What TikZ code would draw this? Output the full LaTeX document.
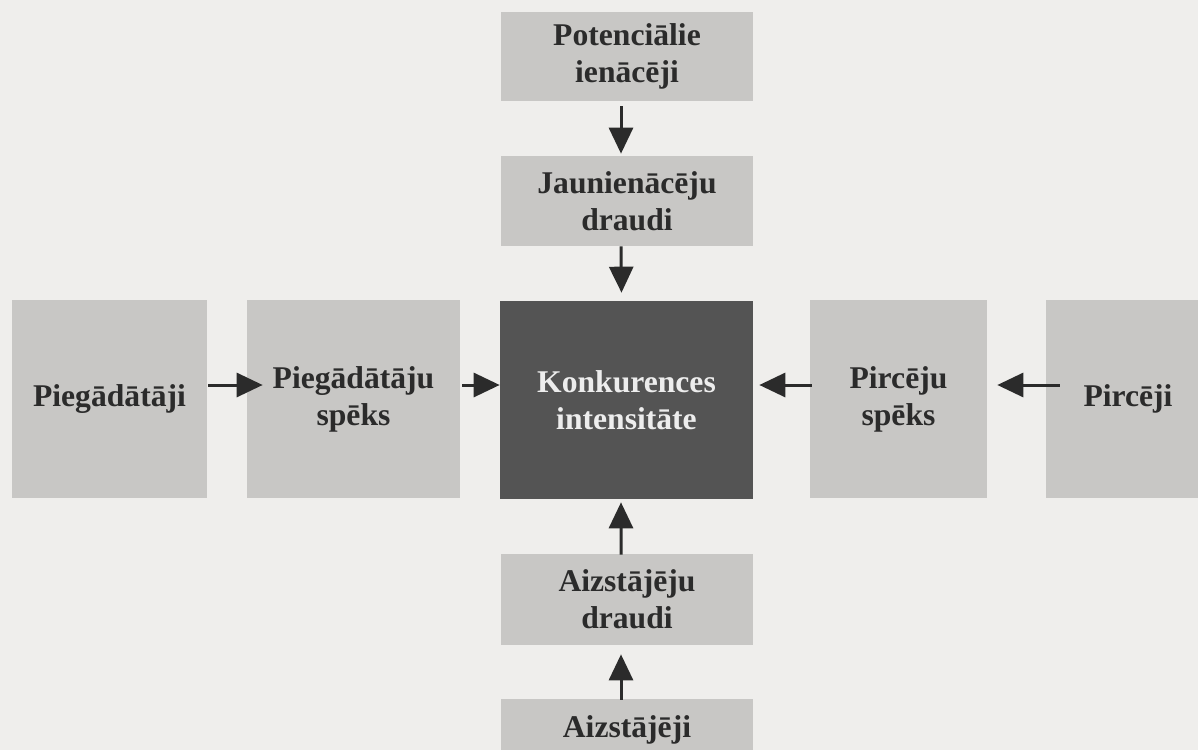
\documentclass[tikz,border=0pt]{standalone}
\usepackage{fontspec}
\setmainfont{Liberation Serif}
\usetikzlibrary{arrows.meta}
\definecolor{paper}{HTML}{EFEEEC}
\definecolor{boxgray}{HTML}{C8C7C5}
\definecolor{darkbox}{HTML}{545454}
\definecolor{ink}{HTML}{2B2B2B}
\definecolor{lightink}{HTML}{EDEDED}
\tikzset{
  lbox/.style={fill=boxgray, draw=none, align=center, text=ink, inner sep=0pt,
    font=\fontsize{18}{21}\selectfont\bfseries},
  dbox/.style={fill=darkbox, draw=none, align=center, text=lightink, inner sep=0pt,
    font=\fontsize{18}{21}\selectfont\bfseries},
  arr/.style={draw=ink, line width=0.06cm, -{Triangle[length=0.52cm,width=0.48cm]}}
}
\begin{document}
\begin{tikzpicture}[x=0.02cm,y=-0.02cm]
\useasboundingbox (0,0) rectangle (1198,750);
\fill[paper] (0,0) rectangle (1198,750);

\node[lbox, minimum width=5.04cm, minimum height=1.78cm] (pot) at (627,56.5) {Potenciālie\\ienācēji};
\node[lbox, minimum width=5.04cm, minimum height=1.8cm] (jaun) at (627,201) {Jaunienācēju\\draudi};
\node[dbox, minimum width=5.06cm, minimum height=3.96cm] (konk) at (626.5,400) {Konkurences\\intensitāte};
\node[lbox, minimum width=3.9cm, minimum height=3.96cm] (pieg) at (109.5,399) {Piegādātāji};
\node[lbox, minimum width=4.26cm, minimum height=3.96cm] (piegsp) at (353.5,399) {Piegādātāju\\spēks};
\node[lbox, minimum width=3.54cm, minimum height=3.96cm] (pirsp) at (898.5,399) {Pircēju\\spēks};
\node[lbox, minimum width=3.28cm, minimum height=3.96cm] (pirc) at (1128,399) {Pircēji};
\node[lbox, minimum width=5.04cm, minimum height=1.82cm] (aizdr) at (627,599.5) {Aizstājēju\\draudi};
\node[lbox, minimum width=5.04cm, minimum height=1.24cm] (aiz) at (627,730) {Aizstājēji};

\draw[arr] ([xshift=-0.12cm,yshift=-0.1cm]pot.south) -- ([xshift=-0.12cm,yshift=0.04cm]jaun.north);
\draw[arr] ([xshift=-0.12cm]jaun.south) -- ([xshift=-0.1cm,yshift=0.16cm]konk.north);
\draw[arr] ([xshift=0.02cm,yshift=0.28cm]pieg.east) -- ([xshift=0.32cm,yshift=0.28cm]piegsp.west);
\draw[arr] ([xshift=0.04cm,yshift=0.28cm]piegsp.east) -- ([yshift=0.3cm]konk.west);
\draw[arr] ([xshift=0.04cm,yshift=0.28cm]pirsp.west) -- ([xshift=0.12cm,yshift=0.3cm]konk.east);
\draw[arr] ([xshift=0.28cm,yshift=0.28cm]pirc.west) -- ([xshift=0.2cm,yshift=0.28cm]pirsp.east);
\draw[arr] ([xshift=-0.12cm,yshift=-0.02cm]aizdr.north) -- ([xshift=-0.11cm,yshift=-0.06cm]konk.south);
\draw[arr] ([xshift=-0.12cm,yshift=-0.02cm]aiz.north) -- ([xshift=-0.12cm,yshift=-0.18cm]aizdr.south);
\end{tikzpicture}
\end{document}
